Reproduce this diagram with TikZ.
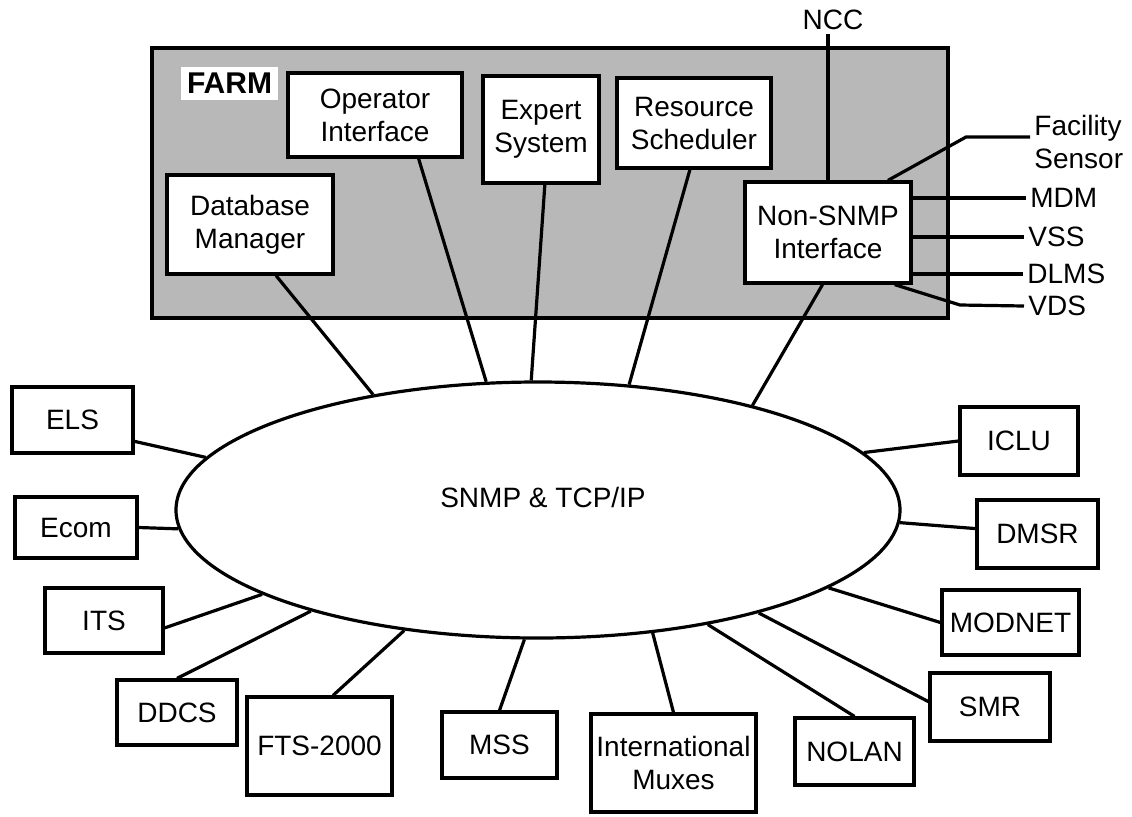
\documentclass[tikz,border=0pt]{standalone}
\usepackage{fontspec}
\setmainfont{Liberation Sans}
\usetikzlibrary{shapes.geometric}
\newcommand{\dfont}{\fontsize{14}{16.5}\selectfont}

\begin{document}
\begin{tikzpicture}[x=0.5pt,y=-0.5pt,
		every node/.style={font=\dfont},
		box/.style={draw,line width=1.6pt,fill=white,align=center,inner sep=1pt},
		lbl/.style={anchor=west,inner sep=2pt,align=left},
		ln/.style={line width=1.6pt}]
	\useasboundingbox (0,0) rectangle (1132,816);
	
	% FARM frame
	\draw[ln,fill=black!28] (152,48) rectangle (948,318);
	\node[fill=white,inner sep=3pt,font=\bfseries\fontsize{15}{17}\selectfont] (farm) at (229.5,83.5) {FARM};
	
	\node[box,minimum width=83pt,minimum height=49.5pt] (db) at (250,224.5) {Database\\Manager};
	\node[box,minimum width=87pt,minimum height=42pt] (op) at (375,115) {Operator\\Interface};
	\node[box,minimum width=58pt,minimum height=53.5pt] (ex) at (541,129.5) {Expert\\System};
	\node[box,minimum width=77pt,minimum height=45pt] (rs) at (694,123) {Resource\\Scheduler};
	\node[box,minimum width=83pt,minimum height=50.5pt] (ns) at (828,232.5) {Non-SNMP\\Interface};
	
	% outside links of the Non-SNMP interface
	\node[inner sep=2pt] (ncc) at (833,20) {NCC};
	\node[lbl] (fs) at (1030,142) {Facility\\Sensor};
	\node[lbl] (mdm) at (1026,198) {MDM};
	\node[lbl] (vss) at (1024,237) {VSS};
	\node[lbl] (dlms) at (1023,274) {DLMS};
	\node[lbl] (vds) at (1024,306) {VDS};
	\coordinate (fbend) at (966,137);
	\coordinate (vbend) at (960,305);
	
	\draw[ln] (ns.north) -- (ns.north |- ncc.south);
	\draw[ln] (ns.41) -- (fbend) -- (fs.west |- fbend);
	\draw[ln] (ns.east |- mdm.west) -- (mdm.west);
	\draw[ln] (ns.east |- vss.west) -- (vss.west);
	\draw[ln] (ns.east |- dlms.west) -- (dlms.west);
	\draw[ln] (ns.-38) -- (vbend) -- (vds.west);
	
	% the network
	\node[ellipse,draw,line width=1.6pt,minimum width=362pt,minimum height=128pt,inner sep=0pt] (net) at (538,510) {};
	\node (snmp) at (543,497) {SNMP \& TCP/IP};
	
	\node[box,minimum width=60.5pt,minimum height=33pt] (els) at (72.5,420) {ELS};
	\node[box,minimum width=61pt,minimum height=30.5pt] (ecom) at (76,527.5) {Ecom};
	\node[box,minimum width=59pt,minimum height=32.5pt] (its) at (104,620.5) {ITS};
	\node[box,minimum width=60pt,minimum height=32.5pt] (ddcs) at (177,712.5) {DDCS};
	\node[box,minimum width=72.5pt,minimum height=49pt] (fts) at (319.5,746) {FTS-2000};
	\node[box,minimum width=57.5pt,minimum height=33pt] (mss) at (499.5,745) {MSS};
	\node[box,minimum width=82.5pt,minimum height=49pt] (intl) at (673.5,763) {International\\Muxes};
	\node[box,minimum width=59.5pt,minimum height=33.5pt] (nolan) at (854.5,751.5) {NOLAN};
	\node[box,minimum width=60pt,minimum height=34pt] (smr) at (990,707) {SMR};
	\node[box,minimum width=68.5pt,minimum height=32.5pt] (modnet) at (1010.5,622.5) {MODNET};
	\node[box,minimum width=60.5pt,minimum height=34pt] (dmsr) at (1037.5,534) {DMSR};
	\node[box,minimum width=59pt,minimum height=34pt] (iclu) at (1019,441) {ICLU};
	
	% FARM boxes to the network
	\draw[ln] (db.-63) -- (net.145);
	\draw[ln] (op.-45) -- (net.112);
	\draw[ln] (ex.-86) -- (net.93);
	\draw[ln] (rs.-95) -- (net.54);
	\draw[ln] (ns.-96) -- (net.26);
	
	\draw[ln] (els.-19) -- (net.171);
	\draw[ln] (ecom.east) -- (net.183);
	\draw[ln] (its.-7) -- (net.197);
	\draw[ln] (ddcs.north) -- (net.204);
	\draw[ln] (fts.75) -- (net.-138);
	\draw[ln] (mss.north) -- (net.-96);
	\draw[ln] (intl.north) -- (net.-47);
	\draw[ln] (nolan.north) -- (net.-34);
	\draw[ln] (smr.175) -- (net.-25);
	\draw[ln] (modnet.west) -- (net.-15);
	\draw[ln] (dmsr.175) -- (net.-2);
	\draw[ln] (iclu.west) -- (net.10);
\end{tikzpicture}
\end{document}
